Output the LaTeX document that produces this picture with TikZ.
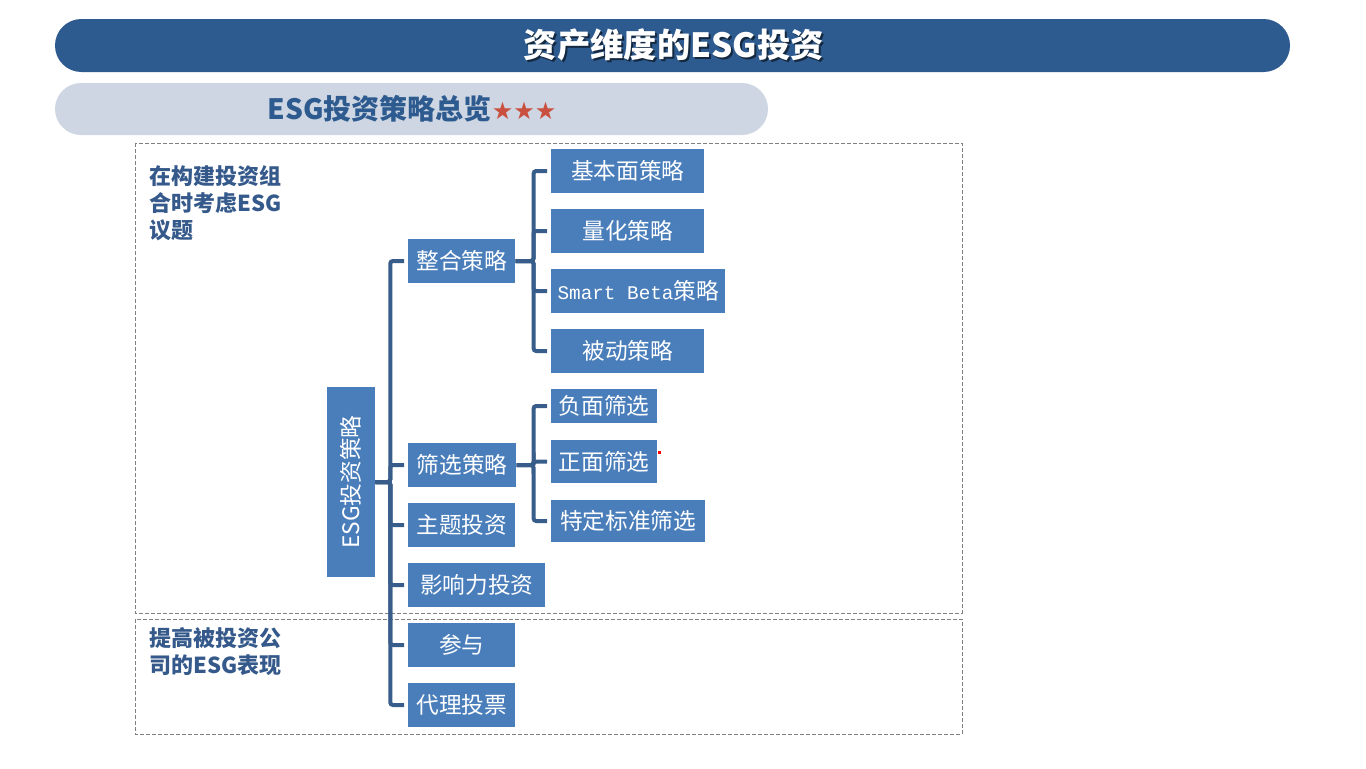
\documentclass[tikz,border=0pt]{standalone}
\usepackage{fontspec}
\setmainfont{Noto Sans CJK SC}
\newfontfamily\symfont{DejaVu Sans}
\newfontfamily\latinmono{Liberation Mono}
\usetikzlibrary{positioning}
\definecolor{titleblue}{HTML}{2E5B8F}
\definecolor{subgray}{HTML}{CDD6E2}
\definecolor{boxblue}{HTML}{4A7EBB}
\definecolor{lineblue}{HTML}{385D8A}
\definecolor{textblue}{HTML}{34598A}
\definecolor{starred}{HTML}{C9503F}
\tikzset{
  stratbox/.style={fill=boxblue, text=white, inner sep=0pt, minimum height=33pt, anchor=west, font=\fontsize{17}{20}\selectfont},
  conn/.style={draw=lineblue, line width=3pt, rounded corners=2pt},
  zone/.style={draw=gray, dash pattern=on 3pt off 1.5pt, line width=0.75pt},
  note/.style={text=textblue, font=\bfseries\fontsize{16.5}{20.25}\selectfont, align=left, anchor=north west, inner sep=0pt}
}

\begin{document}
\begin{tikzpicture}[x=0.75pt, y=-0.75pt]
\useasboundingbox (0,0) rectangle (1366,768);
% headers
\fill[titleblue, rounded corners=19.8pt] (55,19) rectangle (1290,72);
\fill[subgray, rounded corners=19.5pt] (55,83) rectangle (768,135);
\node[text=black, opacity=.55, font=\bfseries\fontsize{25}{30}\selectfont] (titleshade) at (676,47) {资产维度的ESG投资};
\node[text=white, font=\bfseries\fontsize{25}{30}\selectfont] (title) at (674,45) {资产维度的ESG投资};
\node[text=titleblue, font=\bfseries\fontsize{21}{26}\selectfont] (subtitle) at (412,109) {ESG投资策略总览{\symfont\fontsize{18}{22}\selectfont\color{starred}★★★}};
% zones
\draw[zone] (135,143) rectangle (962,613);
\draw[zone] (135,619) rectangle (962,734);
\node[note] (goal1) at (149,165) {在构建投资组\\合时考虑ESG\\议题};
\node[note] (goal2) at (149,627) {提高被投资公\\司的ESG表现};
% root
\node[stratbox, anchor=center, rotate=90, minimum width=142.5pt, minimum height=36pt] (root) at (351,482) {ESG投资策略};
% level 1
\node[stratbox, minimum width=80.25pt] (zh) at (408,261) {整合策略};
\node[stratbox, minimum width=81pt] (sx) at (408,465) {筛选策略};
\node[stratbox, minimum width=80.25pt] (zt) at (408,525) {主题投资};
\node[stratbox, minimum width=102.75pt] (yx) at (408,585) {影响力投资};
\node[stratbox, minimum width=80.25pt] (cy) at (408,645) {参与};
\node[stratbox, minimum width=80.25pt] (dl) at (408,705) {代理投票};
% level 2
\node[stratbox, minimum width=114.75pt] (jb) at (551,171) {基本面策略};
\node[stratbox, minimum width=114.75pt] (lh) at (551,231) {量化策略};
\node[stratbox, minimum width=130.5pt] (sb) at (551,291) {{\latinmono\fontsize{14.5}{18}\selectfont Smart Beta}策略};
\node[stratbox, minimum width=114.75pt] (bd) at (551,351) {被动策略};
\node[stratbox, minimum width=79.5pt, minimum height=25.5pt] (fm) at (551,406) {负面筛选};
\node[stratbox, minimum width=79.5pt, minimum height=32pt] (zm) at (551,461.5) {正面筛选};
\node[stratbox, minimum width=115.5pt, minimum height=31.5pt] (td) at (551,521) {特定标准筛选};
\fill[red] (658,451) rectangle (661,454);
% connectors
\coordinate[right=11.25pt of root.south] (t1);
\coordinate[right=13.5pt of zh.east] (t2);
\coordinate[right=12.75pt of sx.east] (t3);
\foreach \n in {zh,sx,zt,yx,cy,dl}
  \draw[conn] (root.south) -- (t1) |- ([xshift=-3pt]\n.west);
\foreach \n in {jb,lh,sb,bd}
  \draw[conn] (zh.east) -- (t2) |- ([xshift=-3pt]\n.west);
\foreach \n in {fm,zm,td}
  \draw[conn] (sx.east) -- (t3) |- ([xshift=-3pt]\n.west);
\end{tikzpicture}
\end{document}
